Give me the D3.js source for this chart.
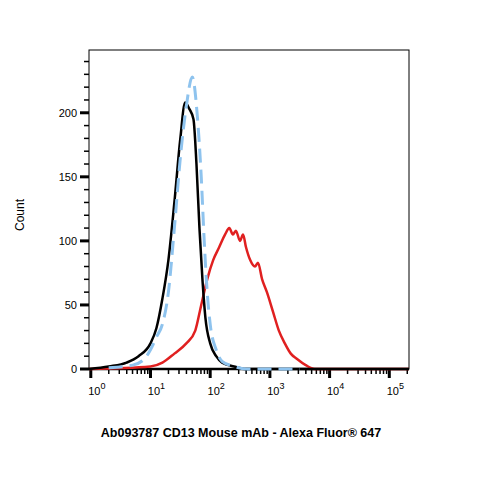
<!DOCTYPE html><html><head><script src="https://cdn.jsdelivr.net/npm/d3@7"></script>
<style>body{margin:0;background:#fff}text{font-family:"Liberation Sans",Arial,sans-serif}</style></head><body>
<svg id="c" width="479" height="479"></svg>
<script>
const blackLog=[-0.03,0.3,0.6,0.8,1.0,1.1,1.2,1.3,1.4,1.5,1.58,1.65,1.72,1.77,1.82,1.87,1.92,2.0,2.1,2.2,2.4,2.6,5.33];
const blackCount=[0,2,5,10,20,32,55,85,130,180,208,203,195,160,110,70,40,20,10,5,2,0,0];
const blueLog=[0.3,0.7,0.9,1.0,1.1,1.2,1.3,1.4,1.5,1.6,1.7,1.78,1.85,1.9,1.95,2.0,2.1,2.2,2.4,2.6,3.5];
const blueCount=[1,3,8,15,25,35,60,110,165,205,228,200,150,100,60,35,15,6,2,0,0];
const redLog=[-0.03,1.0,1.2,1.4,1.6,1.75,1.85,1.95,2.05,2.15,2.25,2.32,2.38,2.43,2.5,2.55,2.6,2.67,2.75,2.8,2.87,2.95,3.05,3.15,3.25,3.35,3.45,3.6,3.75,5.33];
const redCount=[0,2,5,12,20,30,50,70,85,95,105,110,105,108,100,105,95,85,80,83,70,60,45,30,20,12,8,3,0,0];
const yTicks=[0,50,100,150,200];
const xDecades=[0,1,2,3,4,5];
const svg=d3.select("#c");
const L=89,R=409,T=50,B=369;
const x=d3.scaleLog().domain([Math.pow(10,-0.03),Math.pow(10,5.33)]).range([L,R]);
const y=d3.scaleLinear().domain([0,249]).range([B,T]);
svg.append("rect").attr("x",L).attr("y",T).attr("width",R-L).attr("height",B-T).attr("fill","none").attr("stroke","#000").attr("stroke-width",1);
const ymin=d3.range(0,250,10);
svg.selectAll(".ym").data(ymin).join("line").attr("x1",d=>d%50===0?L-9:L-5).attr("x2",L).attr("y1",d=>y(d)).attr("y2",d=>y(d)).attr("stroke","#000").attr("stroke-width",d=>d%50===0?3:1.5);
svg.selectAll(".yl").data(yTicks).join("text").attr("x",L-12).attr("y",d=>y(d)+4).attr("text-anchor","end").attr("font-size",11).text(d=>d);
const xmin=[];xDecades.forEach(e=>{for(let k=1;k<10;k++){const v=k*Math.pow(10,e);if(v<=x.domain()[1])xmin.push({v,major:k===1});}});
svg.selectAll(".xm").data(xmin).join("line").attr("x1",d=>x(d.v)).attr("x2",d=>x(d.v)).attr("y1",B).attr("y2",d=>d.major?B+9:B+5).attr("stroke","#000").attr("stroke-width",d=>d.major?3:1.5);
const xl=svg.selectAll(".xl").data(xDecades).join("text").attr("x",d=>x(Math.pow(10,d))+6).attr("y",B+26).attr("text-anchor","middle").attr("font-size",11);
xl.append("tspan").text("10");
xl.append("tspan").attr("dy",-6).attr("font-size",9).text(d=>d);
svg.append("line").attr("x1",L).attr("x2",R).attr("y1",B).attr("y2",B).attr("stroke","#000").attr("stroke-width",2.5);
const line=d3.line().x(d=>x(Math.pow(10,d[0]))).y(d=>y(d[1])).curve(d3.curveMonotoneX);
const zip=(a,b)=>a.map((v,i)=>[v,b[i]]);
svg.append("path").attr("d",line(zip(redLog,redCount))).attr("fill","none").attr("stroke","#e02020").attr("stroke-width",2.5);
svg.append("path").attr("d",line(zip(blackLog,blackCount))).attr("fill","none").attr("stroke","#000").attr("stroke-width",2.5);
svg.append("path").attr("d",line(zip(blueLog,blueCount))).attr("fill","none").attr("stroke","#8ec3ee").attr("stroke-width",3).attr("stroke-dasharray","14,7");
svg.append("text").attr("transform","translate(24,215) rotate(-90)").attr("text-anchor","middle").attr("font-size",12).text("Count");
svg.append("text").attr("x",241).attr("y",437).attr("text-anchor","middle").attr("font-size",12.5).attr("font-weight","bold").text("Ab093787 CD13 Mouse mAb - Alexa Fluor® 647");
</script></body></html>
